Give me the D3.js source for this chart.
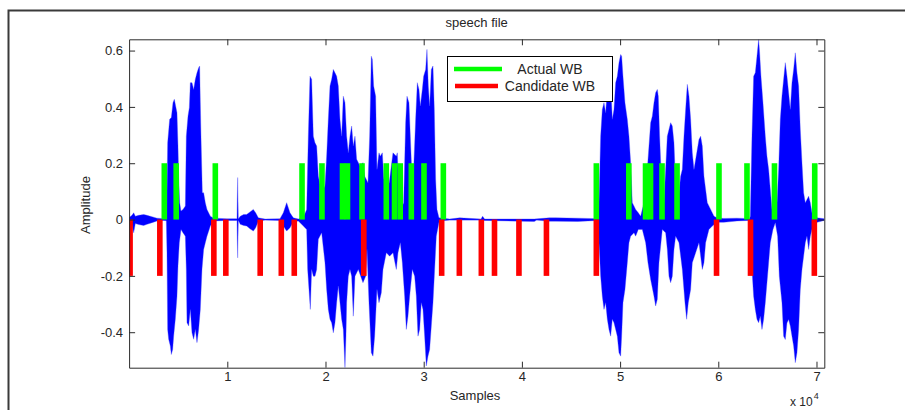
<!DOCTYPE html>
<html>
<head>
<meta charset="utf-8">
<script src="https://cdn.jsdelivr.net/npm/d3@7/dist/d3.min.js"></script>
<style>
  html, body { margin: 0; padding: 0; background: #fff; }
  svg { display: block; font-family: "Liberation Sans", Arial, Helvetica, sans-serif; }
</style>
</head>
<body>
<svg id="chart" width="905" height="410"></svg>
<script>
// ---- data ----------------------------------------------------------------
const sampleCount = 70795;
const yRange = [-0.526, 0.64];

const xTicks = [10000, 20000, 30000, 40000, 50000, 60000, 70000];
const xTickLabels = ["1", "2", "3", "4", "5", "6", "7"];
const yTicks = [-0.4, -0.2, 0, 0.2, 0.4, 0.6];
const yTickLabels = ["-0.4", "-0.2", "0", "0.2", "0.4", "0.6"];

// word boundaries (sample index) and the level each marker reaches
const actualWB = [3585, 4796, 8780, 17610, 19640, 21730, 22240, 23720, 26190, 27030,
  27610, 28740, 30030, 32000, 47580, 50890, 52590, 53100, 54270, 55800, 60070, 62920,
  65720, 69820];
const actualLevel = 0.2;
const candidateWB = [100, 3130, 8630, 9850, 13350, 15500, 16820, 23900, 31830, 33630,
  35870, 37210, 39700, 42500, 47580, 59820, 63280, 69780];
const candidateLevel = -0.2;

// speech signal envelope: [sample, amplitude]
const upperEnvelope = [
  [0,0.007],[295,0.015],[465,0.024],[635,0.012],[974,0.015],[1483,0.018],[1822,0.015],[2332,0.010],[2841,0.005],[3520,0.003],[3791,0.004],
  [3859,0.095],[3927,0.273],[4130,0.356],[4300,0.362],[4470,0.415],[4606,0.427],[4775,0.397],[4877,0.379],[4979,0.261],[5047,0.154],[5149,0.060],[5284,0.030],[5488,0.036],[5726,0.048],
  [5827,0.296],[5997,0.367],[6133,0.397],[6235,0.486],[6404,0.486],[6574,0.462],[6744,0.498],[6913,0.521],[7083,0.539],[7185,0.545],[7253,0.415],[7321,0.296],[7456,0.095],[7592,0.095],[7762,0.060],[7932,0.036],[8271,0.012],[8610,0.005],[9968,0.003],[10986,0.003],[11054,0.149],[11122,0.003],[11326,0.012],[11665,0.018],
  [11972,0.018],[12311,0.027],[12651,0.036],[12888,0.024],[13160,0.006],[13838,0.002],[15366,0.003],[15705,0.024],[16045,0.060],[16385,0.024],[16724,0.006],[17233,0.002],[17742,0.007],[18082,0.036],
  [18251,0.296],[18421,0.509],[18590,0.498],[18760,0.296],[18930,0.273],[19100,0.261],[19269,0.154],[19608,0.095],[19948,0.119],[20117,0.225],[20287,0.356],[20457,0.474],[20626,0.498],[20796,0.533],[20966,0.521],[21136,0.509],[21305,0.474],[21475,0.356],[21645,0.296],[21814,0.438],[21984,0.415],[22154,0.296],[22323,0.237],[22493,0.296],[22663,0.332],[22832,0.261],[23002,0.296],[23172,0.214],[23511,0.190],[23817,0.202],
  [23988,0.154],[24327,0.131],[24497,0.296],[24667,0.580],[24768,0.569],[24904,0.474],[25108,0.438],[25243,0.178],[25447,0.237],[25583,0.225],[25787,0.237],[25922,0.154],[26194,0.060],[26533,0.143],[26873,0.237],[27212,0.225],[27314,0.237],[27484,0.083],[27721,0.036],[27959,0.060],[28162,0.344],[28298,0.438],[28502,0.415],[28637,0.296],[28841,0.119],[28977,0.178],[29181,0.356],[29350,0.486],[29520,0.462],[29656,0.403],[29859,0.462],[29995,0.509],[30199,0.533],[30334,0.604],[30470,0.474],[30606,0.403],[30776,0.533],[30945,0.545],[31081,0.391],[31217,0.143],[31353,0.036],[31556,0.006],[32642,0.002],[33661,0.006],[35833,0.002],
  [36004,0.012],[36200,0.002],[41264,0.002],[42792,0.006],[43470,0.006],[45677,0.005],[47748,0.003],
  [47850,0.060],[48020,0.296],[48189,0.391],[48359,0.415],[48529,0.379],[48699,0.462],[48868,0.474],[49038,0.480],[49208,0.356],[49377,0.391],[49547,0.486],[49717,0.509],[49886,0.557],[50056,0.586],[50158,0.580],[50294,0.509],[50497,0.415],[50735,0.356],[50905,0.296],[51074,0.202],[51244,0.060],[51414,0.048],[51583,0.036],[51855,0.024],[52093,0.012],[52432,0.060],[52771,0.178],[53111,0.344],[53280,0.367],[53450,0.415],[53620,0.450],[53790,0.462],[53891,0.438],[54027,0.296],[54231,0.119],[54468,0.060],[54808,0.296],[54977,0.320],[55147,0.344],[55317,0.332],[55487,0.273],[55656,0.119],[55996,0.095],[56165,0.154],[56335,0.178],[56505,0.296],[56674,0.391],[56844,0.480],[57014,0.438],[57184,0.356],[57353,0.237],[57523,0.178],[57862,0.249],[58032,0.284],[58202,0.296],[58371,0.261],[58541,0.154],[58711,0.107],[58881,0.060],[59220,0.036],[59559,0.012],[59865,0.006],
  [60545,0.004],[61902,0.005],[63192,0.003],[63260,0.012],[63430,0.296],[63599,0.509],[63769,0.521],[63939,0.580],[64109,0.640],[64210,0.592],[64346,0.509],[64550,0.415],[64787,0.296],[64957,0.225],[65127,0.178],[65296,0.107],[65466,0.036],[65636,0.012],[65907,0.007],[66145,0.178],[66315,0.356],[66484,0.438],[66654,0.498],[66824,0.557],[66993,0.509],[67163,0.450],[67333,0.391],[67503,0.486],[67672,0.533],[67842,0.592],[68012,0.521],[68181,0.474],[68351,0.320],[68521,0.202],[68690,0.095],[68860,0.060],[69030,0.071],[69199,0.083],[69369,0.060],[69539,0.024],[70048,0.006],[70795,0.003]
];
const lowerEnvelope = [
  [0,-0.007],[295,-0.017],[465,-0.047],[635,-0.014],[974,-0.018],[1483,-0.021],[1822,-0.017],[2332,-0.011],[2841,-0.005],[3520,-0.003],[3791,-0.004],
  [3859,-0.118],[3927,-0.390],[4029,-0.425],[4198,-0.449],[4300,-0.479],[4436,-0.461],[4538,-0.414],[4707,-0.354],[4877,-0.272],[4979,-0.165],[5115,-0.082],[5284,-0.035],[5488,-0.047],[5726,-0.059],
  [5827,-0.177],[5895,-0.366],[6065,-0.378],[6235,-0.319],[6404,-0.402],[6574,-0.425],[6744,-0.390],[6913,-0.437],[7083,-0.390],[7253,-0.319],[7422,-0.177],[7592,-0.106],[7762,-0.082],[7932,-0.059],[8271,-0.023],[8610,-0.005],[9968,-0.003],[10986,-0.003],[11054,-0.136],[11122,-0.003],[11326,-0.017],[11665,-0.021],
  [11972,-0.023],[12311,-0.033],[12651,-0.041],[12888,-0.029],[13160,-0.006],[13838,-0.002],[15366,-0.003],[15705,-0.023],[16045,-0.041],[16385,-0.029],[16724,-0.008],[17233,-0.005],[17742,-0.023],[18082,-0.035],
  [18183,-0.177],[18319,-0.248],[18454,-0.319],[18590,-0.177],[18760,-0.201],[18930,-0.201],[19100,-0.177],[19269,-0.070],[19608,-0.047],[19948,-0.153],[20117,-0.248],[20287,-0.319],[20457,-0.354],[20626,-0.366],[20796,-0.402],[20966,-0.366],[21136,-0.295],[21305,-0.236],[21475,-0.295],[21645,-0.354],[21814,-0.390],[21984,-0.526],[22086,-0.414],[22154,-0.295],[22323,-0.201],[22493,-0.177],[22663,-0.201],[22832,-0.343],[23002,-0.201],[23341,-0.177],[23817,-0.224],
  [24090,-0.201],[24225,-0.106],[24429,-0.295],[24667,-0.473],[24836,-0.485],[25006,-0.414],[25243,-0.248],[25447,-0.295],[25685,-0.260],[25854,-0.177],[26194,-0.118],[26533,-0.130],[26873,-0.118],[27212,-0.177],[27382,-0.118],[27620,-0.082],[27823,-0.153],[28061,-0.272],[28230,-0.390],[28400,-0.343],[28570,-0.272],[28841,-0.177],[29079,-0.201],[29248,-0.272],[29418,-0.414],[29588,-0.390],[29757,-0.295],[29927,-0.319],[30097,-0.414],[30266,-0.520],[30436,-0.485],[30606,-0.461],[30776,-0.378],[30945,-0.295],[31115,-0.177],[31285,-0.059],[31556,-0.010],[31963,-0.004],[32642,-0.002],[35833,-0.002],
  [36004,-0.003],[41264,-0.007],[41500,-0.002],[42792,-0.006],[43470,-0.006],[45677,-0.007],[47748,-0.003],
  [47850,-0.082],[48020,-0.201],[48189,-0.272],[48359,-0.319],[48529,-0.295],[48699,-0.354],[48868,-0.390],[49038,-0.414],[49208,-0.354],[49377,-0.366],[49547,-0.390],[49717,-0.414],[49886,-0.473],[50056,-0.485],[50158,-0.414],[50294,-0.295],[50497,-0.248],[50735,-0.153],[50905,-0.082],[51074,-0.059],[51414,-0.047],[51583,-0.059],[51855,-0.035],[52262,-0.035],[52602,-0.082],[52839,-0.153],[53111,-0.213],[53450,-0.272],[53620,-0.307],[53790,-0.283],[53959,-0.153],[54299,-0.035],[54638,-0.047],[54808,-0.106],[54977,-0.201],[55147,-0.224],[55317,-0.201],[55487,-0.106],[55656,-0.059],[55996,-0.082],[56335,-0.177],[56607,-0.295],[56776,-0.354],[56946,-0.295],[57184,-0.248],[57353,-0.153],[57693,-0.118],[58032,-0.082],[58371,-0.177],[58541,-0.153],[58711,-0.082],[59050,-0.035],[59390,-0.023],[59865,-0.010],
  [60545,-0.010],[61902,-0.005],[63192,-0.003],[63260,-0.011],[63430,-0.177],[63599,-0.272],[63769,-0.319],[63939,-0.354],[64109,-0.366],[64278,-0.343],[64448,-0.390],[64618,-0.354],[64787,-0.295],[64957,-0.224],[65127,-0.153],[65296,-0.082],[65568,-0.035],[65805,-0.011],[66043,-0.059],[66213,-0.201],[66484,-0.295],[66654,-0.414],[66824,-0.426],[66993,-0.367],[67163,-0.355],[67333,-0.378],[67503,-0.414],[67672,-0.449],[67842,-0.508],[68012,-0.473],[68181,-0.390],[68351,-0.248],[68521,-0.177],[68690,-0.130],[68860,-0.082],[69030,-0.059],[69199,-0.106],[69369,-0.059],[69539,-0.035],[70048,-0.010],[70795,-0.003]
];

const seriesNames = ["Actual WB", "Candidate WB"];
const colors = { signal: "#0000ff", actual: "#00ff00", candidate: "#ff0000", axis: "#2b2b2b" };

// ---- layout --------------------------------------------------------------
const svg = d3.select("#chart");
const plot = { left: 129.1, right: 824.3, top: 39.3, bottom: 367.7 };
const markWidth = 5.6;

const x = d3.scaleLinear().domain([0, sampleCount]).range([plot.left, plot.right]);
const y = d3.scaleLinear().domain(yRange).range([plot.bottom, plot.top]);

// figure frame
svg.append("path")
  .attr("d", "M8.5,410 V10.5 H905")
  .attr("fill", "none").attr("stroke", "#3a3a3a").attr("stroke-width", 2);

svg.append("clipPath").attr("id", "plotClip")
  .append("rect")
  .attr("x", plot.left).attr("y", plot.top)
  .attr("width", plot.right - plot.left).attr("height", plot.bottom - plot.top);

const g = svg.append("g").attr("clip-path", "url(#plotClip)");

// faint trace along zero where the signal is near silent
g.append("line")
  .attr("x1", x(0)).attr("x2", x(sampleCount))
  .attr("y1", y(0)).attr("y2", y(0))
  .attr("stroke", "#8c8cff").attr("stroke-width", 1.2);

// waveform: upper envelope left-to-right, lower envelope back
const outline = upperEnvelope.concat(lowerEnvelope.slice().reverse());
const line = d3.line().x(d => x(d[0])).y(d => y(d[1]));
g.append("path")
  .attr("d", line(outline) + "Z")
  .attr("fill", colors.signal)
  .attr("stroke", "rgba(70,70,255,0.5)")
  .attr("stroke-width", 0.7)
  .attr("stroke-linejoin", "round");

// boundary markers
g.selectAll("rect.actual").data(actualWB).enter().append("rect")
  .attr("class", "actual")
  .attr("x", d => x(d) - markWidth / 2)
  .attr("y", y(actualLevel))
  .attr("width", markWidth)
  .attr("height", y(0) - y(actualLevel))
  .attr("fill", colors.actual);

g.selectAll("rect.candidate").data(candidateWB).enter().append("rect")
  .attr("class", "candidate")
  .attr("x", d => x(d) - markWidth / 2)
  .attr("y", y(0))
  .attr("width", markWidth)
  .attr("height", y(candidateLevel) - y(0))
  .attr("fill", colors.candidate);

// ---- axes (box with inward ticks) ---------------------------------------
function styleAxis(sel) {
  sel.selectAll("path.domain").attr("stroke", colors.axis).attr("stroke-width", 1);
  sel.selectAll(".tick line").attr("stroke", colors.axis);
  sel.selectAll("text").attr("fill", "#262626").attr("font-size", 13)
    .attr("font-family", '"Liberation Sans", Arial, sans-serif');
}

svg.append("g").attr("transform", `translate(0,${plot.bottom})`)
  .call(d3.axisBottom(x).tickValues(xTicks).tickFormat((d, i) => xTickLabels[i])
    .tickSize(-6).tickSizeOuter(0).tickPadding(4))
  .call(styleAxis);

svg.append("g").attr("transform", `translate(0,${plot.top})`)
  .call(d3.axisTop(x).tickValues(xTicks).tickFormat("").tickSize(-6).tickSizeOuter(0))
  .call(styleAxis);

svg.append("g").attr("transform", `translate(${plot.left},0)`)
  .call(d3.axisLeft(y).tickValues(yTicks).tickFormat((d, i) => yTickLabels[i])
    .tickSize(-6).tickSizeOuter(0).tickPadding(6))
  .call(styleAxis);

svg.append("g").attr("transform", `translate(${plot.right},0)`)
  .call(d3.axisRight(y).tickValues(yTicks).tickFormat("").tickSize(-6).tickSizeOuter(0))
  .call(styleAxis);

svg.selectAll(".domain").attr("fill", "none");

// ---- text ----------------------------------------------------------------
const textColor = "#262626";
svg.append("text").attr("x", (plot.left + plot.right) / 2).attr("y", 27)
  .attr("text-anchor", "middle").attr("font-size", 13).attr("fill", textColor)
  .text("speech file");

svg.append("text").attr("x", 475).attr("y", 400)
  .attr("text-anchor", "middle").attr("font-size", 13).attr("fill", textColor)
  .text("Samples");

svg.append("text")
  .attr("transform", "translate(89.5,205) rotate(-90)")
  .attr("text-anchor", "middle").attr("font-size", 13).attr("fill", textColor)
  .text("Amplitude");

const expo = svg.append("text").attr("x", 790).attr("y", 406)
  .attr("font-size", 12).attr("fill", textColor);
expo.append("tspan").text("x 10");
expo.append("tspan").attr("font-size", 9).attr("dy", -7).attr("dx", 1).text("4");

// ---- legend --------------------------------------------------------------
const legend = svg.append("g");
legend.append("rect")
  .attr("x", 447.5).attr("y", 56.5).attr("width", 165).attr("height", 45)
  .attr("fill", "#fff").attr("stroke", "#000").attr("stroke-width", 1);

const legendRows = [
  { name: seriesNames[0], color: colors.actual, y: 69, x1: 454, x2: 502 },
  { name: seriesNames[1], color: colors.candidate, y: 86, x1: 455, x2: 498 }
];
legendRows.forEach(r => {
  legend.append("line")
    .attr("x1", r.x1).attr("x2", r.x2).attr("y1", r.y).attr("y2", r.y)
    .attr("stroke", r.color).attr("stroke-width", 4.5);
  legend.append("text")
    .attr("x", 550).attr("y", r.y + 5)
    .attr("text-anchor", "middle").attr("font-size", 14).attr("fill", textColor)
    .text(r.name);
});
</script>
</body>
</html>
